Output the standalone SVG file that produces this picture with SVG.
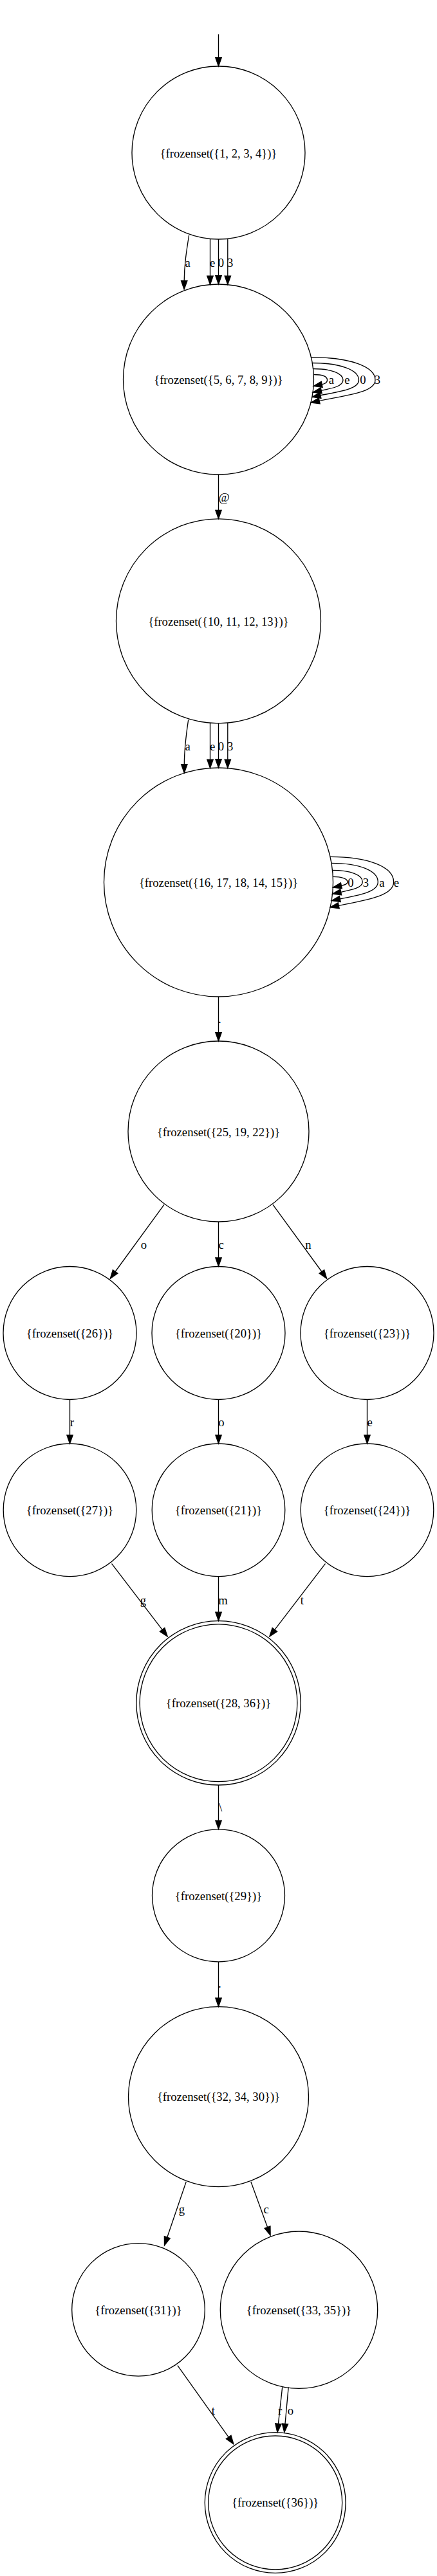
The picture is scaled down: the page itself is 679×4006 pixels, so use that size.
<svg xmlns="http://www.w3.org/2000/svg" width="679" height="4006" viewBox="0 0 679 4006">
<style>
.n{fill:none;stroke:#000;stroke-width:1.33}
.e{fill:none;stroke:#000;stroke-width:1.33;marker-end:url(#ah)}
text{font-family:"Liberation Serif","Times New Roman",serif;font-size:18.67px;text-anchor:middle;fill:#000}
</style>
<defs>
<marker id="ah" markerUnits="userSpaceOnUse" markerWidth="16" markerHeight="12" viewBox="0 0 16 12" refX="1" refY="5.67" orient="auto" overflow="visible">
<path d="M1,1 L14.33,5.67 L1,10.33 z" fill="#000" stroke="#000" stroke-width="1.33"/>
</marker>
</defs>
<rect width="679" height="4006" fill="#fff"/>
<g id="edges">
<path class="e" d="M339.5,53.3 L339.5,89.7"/>
<path class="e" d="M293.6,366 C289.5,392 286.4,412 286.2,436.7"/>
<text x="291.6" y="414.5">a</text>
<path class="e" d="M326.5,372 L326.5,429.2"/>
<text x="330.2" y="414.5">e</text>
<path class="e" d="M339.5,372 L339.5,428.7"/>
<text x="343.3" y="414.5">0</text>
<path class="e" d="M353.8,371.5 L353.8,429.2"/>
<text x="357.7" y="414.5">3</text>
<path class="e" d="M487.3,582.5 C499,582.5 508.5,585 508.5,591 C508.5,595 505.1,596.8 500.2,597.8"/>
<text x="515" y="597">a</text>
<path class="e" d="M486.6,573.5 C514.8,573.5 533,580.5 533,591 C533,600.8 515.8,603.9 499.2,607.3"/>
<text x="539.3" y="597">e</text>
<path class="e" d="M485.3,564.5 C528.6,564.5 557.5,575.1 557.5,591 C557.5,605.4 527.2,608.9 498,614.8"/>
<text x="564" y="597">0</text>
<path class="e" d="M483.5,555.7 C543.2,555.7 583,569.8 583,591 C583,610.3 538.7,614.6 496.2,623.3"/>
<text x="586.5" y="597">3</text>
<path class="e" d="M339.5,738 L339.5,793.4"/>
<text x="348" y="779.5">@</text>
<path class="e" d="M292.7,1119.3 C288.5,1147 286.4,1166 286.3,1188.7"/>
<text x="291.6" y="1166.5">a</text>
<path class="e" d="M326.5,1124.5 L326.5,1181.2"/>
<text x="330.2" y="1166.5">e</text>
<path class="e" d="M339.5,1124.8 L339.5,1180.7"/>
<text x="343.3" y="1166.5">0</text>
<path class="e" d="M353.8,1124.3 L353.8,1181.2"/>
<text x="357.7" y="1166.5">3</text>
<path class="e" d="M517.3,1363.3 C530.9,1363.3 540,1366.6 540,1371.5 C540,1375.2 535.1,1376.3 530.4,1377.3"/>
<text x="545" y="1379">0</text>
<path class="e" d="M516.5,1353.3 C544.6,1353.3 563.3,1360.6 563.3,1371.5 C563.3,1380.6 546.2,1383.9 529.7,1387.3"/>
<text x="568.3" y="1379">3</text>
<path class="e" d="M515,1342.3 C558.4,1342.3 587.3,1354 587.3,1371.5 C587.3,1387.4 557.2,1392.1 528.3,1398"/>
<text x="593.3" y="1379">a</text>
<path class="e" d="M513,1332.3 C572.2,1332.3 611.7,1348 611.7,1371.5 C611.7,1393.6 568.1,1399.8 526.3,1408.3"/>
<text x="616" y="1379">e</text>
<path class="e" d="M339.5,1550 L339.5,1605.7"/>
<text x="341.3" y="1590.5">.</text>
<path class="e" d="M255,1873.3 L179.15,1977.5"/>
<text x="223.3" y="1941.6">o</text>
<path class="e" d="M339.5,1900 L339.5,1956"/>
<text x="343.6" y="1941.6">c</text>
<path class="e" d="M424,1873.3 L499.85,1977.5"/>
<text x="478.9" y="1941.6">n</text>
<path class="e" d="M108.5,2176.5 L108.5,2231.7"/>
<text x="111.9" y="2217.6">r</text>
<path class="e" d="M339.5,2176.5 L339.5,2231.7"/>
<text x="343.9" y="2217.6">o</text>
<path class="e" d="M570.5,2176.5 L570.5,2231.7"/>
<text x="574.6" y="2217.6">e</text>
<path class="e" d="M173.5,2431.7 L252.1,2534.4"/>
<text x="222.3" y="2494.5">g</text>
<path class="e" d="M339.5,2451.7 L339.5,2507.2"/>
<text x="346.6" y="2494.5">m</text>
<path class="e" d="M505.5,2431.7 L426.9,2534.4"/>
<text x="469.3" y="2494.5">t</text>
<path class="e" d="M339.5,2776 L339.5,2831.2"/>
<text x="342.6" y="2816.5">\</text>
<path class="e" d="M339.5,3050.8 L339.5,3107.2"/>
<text x="341.3" y="3091">.</text>
<path class="e" d="M289.3,3392.7 L259.8,3479.3"/>
<text x="282.4" y="3442">g</text>
<path class="e" d="M389.8,3392.7 L415.55,3463.6"/>
<text x="413.6" y="3442">c</text>
<path class="e" d="M275.9,3678.7 L355.2,3790.1"/>
<text x="331.3" y="3755">t</text>
<path class="e" d="M438.7,3712.4 L432.4,3769.4"/>
<text x="435.2" y="3755">r</text>
<path class="e" d="M448.2,3712.4 L443,3769.3"/>
<text x="451.3" y="3755">o</text>
</g>
<g id="n1"><circle class="n" cx="339.5" cy="237.5" r="134.5"/><text x="339.5" y="244.5">{frozenset({1, 2, 3, 4})}</text></g>
<g id="n5_9"><circle class="n" cx="339.5" cy="590" r="148"/><text x="339.5" y="597">{frozenset({5, 6, 7, 8, 9})}</text></g>
<g id="n10_13"><circle class="n" cx="339.5" cy="965.8" r="159"/><text x="339.5" y="973">{frozenset({10, 11, 12, 13})}</text></g>
<g id="n14_18"><circle class="n" cx="339.5" cy="1372" r="178"/><text x="339.5" y="1379">{frozenset({16, 17, 18, 14, 15})}</text></g>
<g id="n19_25"><circle class="n" cx="339.5" cy="1759.5" r="140.5"/><text x="339.5" y="1767">{frozenset({25, 19, 22})}</text></g>
<g id="n26"><circle class="n" cx="108.5" cy="2073" r="103.5"/><text x="108.5" y="2080">{frozenset({26})}</text></g>
<g id="n20"><circle class="n" cx="339.5" cy="2073" r="103.5"/><text x="339.5" y="2080">{frozenset({20})}</text></g>
<g id="n23"><circle class="n" cx="570.5" cy="2073" r="103.5"/><text x="570.5" y="2080">{frozenset({23})}</text></g>
<g id="n27"><circle class="n" cx="108.5" cy="2348.3" r="103.3"/><text x="108.5" y="2355.3">{frozenset({27})}</text></g>
<g id="n21"><circle class="n" cx="339.5" cy="2348.3" r="103.3"/><text x="339.5" y="2355.3">{frozenset({21})}</text></g>
<g id="n24"><circle class="n" cx="570.5" cy="2348.3" r="103.3"/><text x="570.5" y="2355.3">{frozenset({24})}</text></g>
<g id="n28_36"><circle class="n" cx="339.5" cy="2648.3" r="122.4"/><circle class="n" cx="339.5" cy="2648.3" r="127.7"/><text x="339.5" y="2655">{frozenset({28, 36})}</text></g>
<g id="n29"><circle class="n" cx="339.5" cy="2947.8" r="103"/><text x="339.5" y="2954.5">{frozenset({29})}</text></g>
<g id="n30_34"><circle class="n" cx="339.5" cy="3260.7" r="140"/><text x="339.5" y="3267">{frozenset({32, 34, 30})}</text></g>
<g id="n31"><circle class="n" cx="215" cy="3591.9" r="103.3"/><text x="215" y="3599">{frozenset({31})}</text></g>
<g id="n33_35"><circle class="n" cx="464.5" cy="3592.2" r="122.2"/><text x="464.5" y="3599">{frozenset({33, 35})}</text></g>
<g id="n36"><circle class="n" cx="427.7" cy="3892" r="104"/><circle class="n" cx="427.7" cy="3892" r="109.4"/><text x="427.7" y="3898">{frozenset({36})}</text></g>
</svg>
